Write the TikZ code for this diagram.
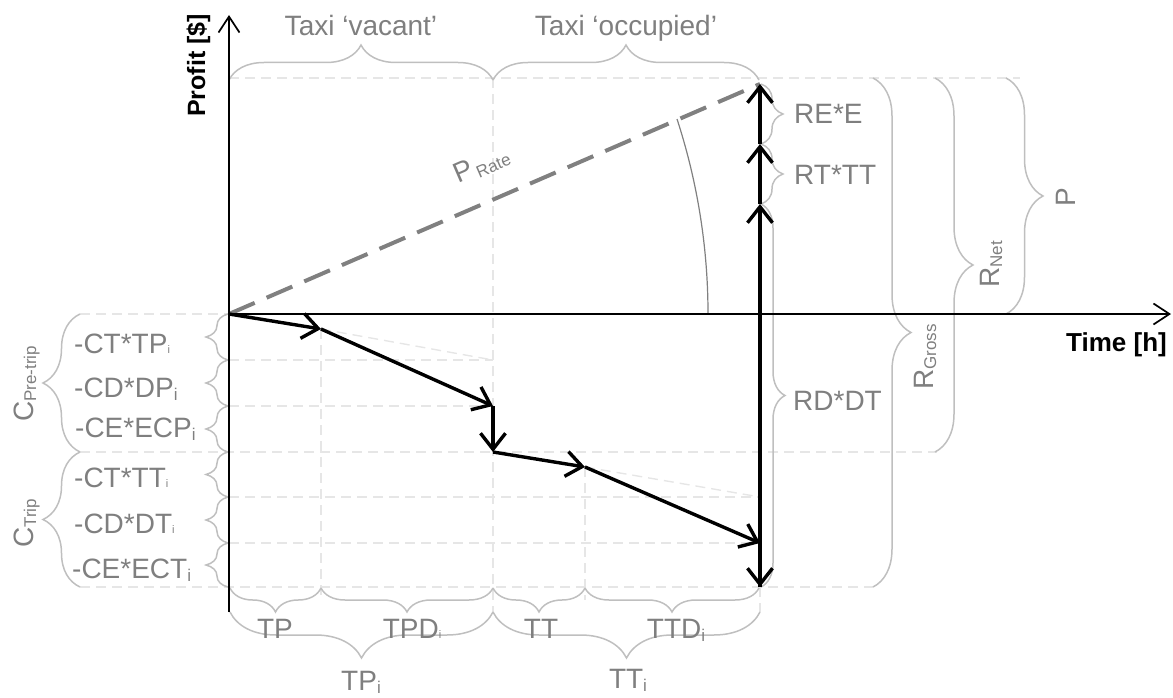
\documentclass[tikz,border=0pt]{standalone}
\usepackage{fontspec}
\setmainfont{Liberation Sans}
\usetikzlibrary{arrows.meta,decorations.pathreplacing}
\definecolor{txtgray}{HTML}{7F7F7F}
\definecolor{bracegray}{HTML}{BFBFBF}
\definecolor{gridgray}{HTML}{E6E6E6}
\definecolor{rategray}{HTML}{808080}
\newcommand\lsub[2][17]{\raisebox{-3pt}{\fontsize{#1}{#1}\selectfont #2}}
\newcommand\tsub[1]{{\fontsize{11}{11}\selectfont #1}}
\begin{document}
\begin{tikzpicture}[x=1pt,y=-1pt,
  gridline/.style={gridgray,line width=1.4pt,dash pattern=on 10pt off 6pt},
  bracepath/.style={bracegray,line width=1.5pt,decorate,decoration={brace,amplitude=#1}},
  lbl/.style={text=txtgray,font=\fontsize{28}{30}\selectfont,inner sep=0pt},
  axislbl/.style={text=black,font=\fontsize{25}{27}\selectfont\bfseries,inner sep=0pt},
  flow/.style={line width=3.4pt,-{Straight Barb[length=16pt,width=25pt]}},
  axisline/.style={line width=1.7pt,-{Straight Barb[length=16pt,width=21pt]}},
  rateline/.style={rategray,line width=4pt,dash pattern=on 28pt off 13pt},
]
\useasboundingbox (0,0) rectangle (1173,698);
% key points
\coordinate (O) at (229,314);
\coordinate (Ytop) at (229,15);
\coordinate (Ybot) at (229,612);
\coordinate (Xend) at (1171,314);
\coordinate (A1) at (321,329);
\coordinate (A2) at (493,406);
\coordinate (A3) at (493,452);
\coordinate (A4) at (585,467);
\coordinate (A5) at (760,543);
\coordinate (A6) at (760,587);
\coordinate (A7) at (760,204);
\coordinate (A8) at (760,144);
\coordinate (A9) at (760,84);
\coordinate (G1) at (493,360);
\coordinate (G2) at (760,497);
\coordinate (ArcS) at (708,314);

% grid
\draw[gridline] (80,314) -- (O);
\draw[gridline] (229,360) -- (493,360);
\draw[gridline] (229,406) -- (493,406);
\draw[gridline] (80,452) -- (937,452);
\draw[gridline] (229,497) -- (760,497);
\draw[gridline] (229,543) -- (760,543);
\draw[gridline] (80,587) -- (873,587);
\draw[gridline] (229,78) -- (1020,78);
\draw[gridline] (321,329) -- (321,600);
\draw[gridline] (493,78) -- (493,612);
\draw[gridline] (585,467) -- (585,600);
\draw[gridline] (760,587) -- (760,612);
\draw[gridline] (A1) -- (G1);
\draw[gridline] (A4) -- (G2);

% braces top
\draw[bracepath=35] (229,80) -- (493,80);
\draw[bracepath=35] (493,80) -- (759,80);
% braces bottom
\draw[bracepath=24] (321,588) -- (230,588);
\draw[bracepath=24] (493,588) -- (321,588);
\draw[bracepath=24] (585,588) -- (493,588);
\draw[bracepath=24] (759,588) -- (585,588);
\draw[bracepath=46] (493,612) -- (230,612);
\draw[bracepath=46] (760,612) -- (493,612);
% braces left
\draw[bracepath=22] (228,360) -- (228,314);
\draw[bracepath=22] (228,406) -- (228,360);
\draw[bracepath=22] (228,452) -- (228,406);
\draw[bracepath=22] (228,497) -- (228,452);
\draw[bracepath=22] (228,543) -- (228,497);
\draw[bracepath=22] (228,587) -- (228,543);
\draw[bracepath=37] (80,452) -- (80,314);
\draw[bracepath=37] (80,587) -- (80,452);
% braces right
\draw[bracepath=22] (761,84) -- (761,144);
\draw[bracepath=22] (761,144) -- (761,204);
\draw[bracepath=24] (761,204) -- (761,587);
\draw[bracepath=38] (873,78) -- (873,587);
\draw[bracepath=38] (935,78) -- (935,452);
\draw[bracepath=37] (1006,78) -- (1006,314);

% rate line and angle
\draw[rateline] (O) -- (A9);
\draw[rategray,line width=1.2pt] (ArcS) arc[start angle=0,end angle=18.06,radius=629pt];

% axes
\draw[axisline] (Ybot) -- (Ytop);
\draw[axisline] (O) -- (Xend);

% flow arrows
\draw[flow] (O) -- (A1);
\draw[flow] (A1) -- (A2);
\draw[flow] (A2) -- (A3);
\draw[flow] (A3) -- (A4);
\draw[flow] (A4) -- (A5);
\draw[flow] (A5) -- (A6);
\draw[flow] (A6) -- (A7);
\draw[flow] (A7) -- (A8);
\draw[flow] (A8) -- (A9);

% axis labels
\node[axislbl,rotate=90,anchor=base west] (ylab) at (205,117) {Profit [\$]};
\node[axislbl,anchor=base east,font=\fontsize{26}{28}\selectfont\bfseries] (xlab) at (1167,351) {Time [h]};

% top labels
\node[lbl,anchor=base] (vac) at (361,36) {Taxi ‘vacant’};
\node[lbl,anchor=base] (occ) at (626,36) {Taxi ‘occupied’};

% rate label
\node[lbl,rotate=23.4,anchor=base west] (prate) at (458,184) {P\kern3pt\lsub{Rate}};

% right labels
\node[lbl,anchor=base west] (ree) at (794,124) {RE*E};
\node[lbl,anchor=base west] (rtt) at (794,184) {RT*TT};
\node[lbl,anchor=base west] (rdd) at (793,410) {RD*DT};
\node[lbl,rotate=90,anchor=base west] (rg) at (933,390) {R\lsub{Gross}};
\node[lbl,rotate=90,anchor=base west] (rn) at (999,288) {R\lsub{Net}};
\node[lbl,rotate=90,anchor=base west] (pp) at (1075,207) {P};

% left labels
\node[lbl,anchor=base west] (c1) at (74,353) {-CT*TP\tsub{i}};
\node[lbl,anchor=base west] (c2) at (74,397) {-CD*DP\lsub{i}};
\node[lbl,anchor=base west] (c3) at (75,437) {-CE*ECP\lsub{i}};
\node[lbl,anchor=base west] (c4) at (74,487) {-CT*TT\tsub{i}};
\node[lbl,anchor=base west] (c5) at (74,533) {-CD*DT\tsub{i}};
\node[lbl,anchor=base west] (c6) at (72,578) {-CE*ECT\lsub{i}};
\node[lbl,rotate=90,anchor=base west] (cpre) at (33,422) {C\lsub{Pre-trip}};
\node[lbl,rotate=90,anchor=base west] (ctrip) at (33,548) {C\lsub{Trip}};

% bottom labels
\node[lbl,anchor=base] (tp) at (275,638) {TP};
\node[lbl,anchor=base] (tpd) at (412,638) {TPD\tsub{i}};
\node[lbl,anchor=base] (tt) at (541,638) {TT};
\node[lbl,anchor=base] (ttd) at (676,638) {TTD\lsub{i}};
\node[lbl,anchor=base] (tpi) at (361,690) {TP\lsub{i}};
\node[lbl,anchor=base] (tti) at (628,688) {TT\lsub{i}};
\end{tikzpicture}
\end{document}
